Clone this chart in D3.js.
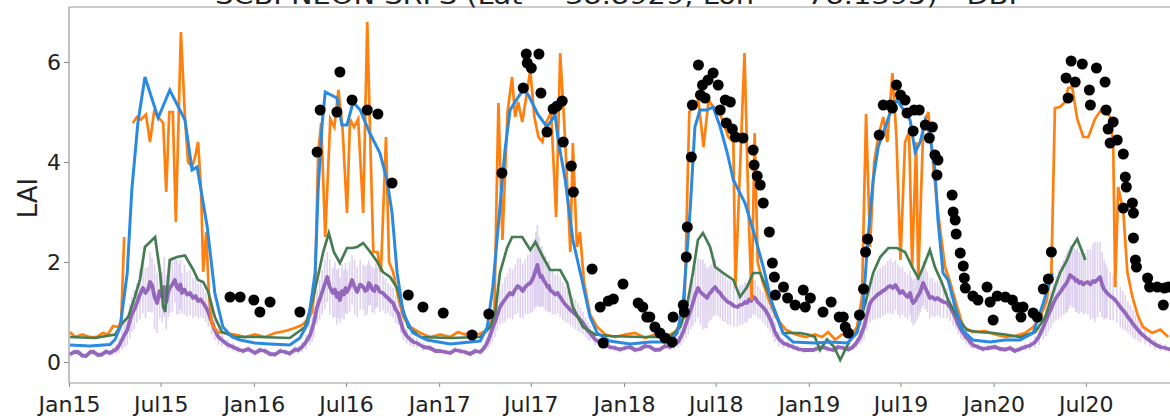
<!DOCTYPE html>
<html>
<head>
<meta charset="utf-8">
<script src="https://cdn.jsdelivr.net/npm/d3@7"></script>
<style>
  body { margin: 0; background: #fff; }
  svg { display: block; font-family: "DejaVu Sans", sans-serif; }
</style>
</head>
<body>
<svg id="chart" width="1170" height="419"></svg>
<script>
// ---- data: [year, day of year, LAI] ----
const titleText = "SCBI NEON SRFS (Lat = 38.8929, Lon = -78.1395) - DBF";
const yTicks = [0, 2, 4, 6];

const orangeLAI = [
  [2015,3,0.6],[2015,13,0.5],[2015,27,0.55],[2015,42,0.5],[2015,56,0.5],[2015,68,0.58],[2015,78,0.55],
  [2015,88,0.72],[2015,98,0.7],[2015,104,0.82],[2015,110,2.5],[2015,118,null],
  [2015,127,4.78],[2015,135,4.9],[2015,143,4.85],[2015,153,4.95],[2015,161,4.4],[2015,169,5.0],
  [2015,177,4.9],[2015,187,4.78],[2015,193,3.4],[2015,199,5.0],[2015,206,5.0],[2015,212,2.8],
  [2015,222,6.6],[2015,230,4.9],[2015,236,4.0],[2015,244,3.9],[2015,250,4.1],[2015,256,4.4],
  [2015,262,3.4],[2015,266,1.8],[2015,272,2.6],[2015,277,1.4],[2015,283,0.75],[2015,295,0.6],
  [2015,309,0.58],[2015,329,0.55],[2015,349,0.5],
  [2016,3,0.55],[2016,23,0.5],[2016,43,0.58],[2016,63,0.62],[2016,82,0.68],[2016,96,0.74],
  [2016,108,0.85],[2016,116,1.0],[2016,122,1.5],[2016,128,4.2],[2016,134,4.78],[2016,142,2.5],
  [2016,152,4.86],[2016,160,4.7],[2016,168,5.44],[2016,176,4.7],[2016,185,2.98],[2016,191,4.86],
  [2016,199,4.7],[2016,207,4.86],[2016,217,2.98],[2016,225,6.8],[2016,231,4.4],[2016,237,2.2],
  [2016,245,2.2],[2016,252,1.8],[2016,262,4.5],[2016,268,2.0],[2016,276,1.8],[2016,286,1.3],
  [2016,296,0.9],[2016,310,0.7],[2016,330,0.58],[2016,349,0.5],
  [2017,3,0.55],[2017,23,0.5],[2017,38,0.6],[2017,52,0.55],[2017,66,0.62],[2017,78,0.55],
  [2017,92,0.62],[2017,102,0.75],[2017,110,1.0],[2017,118,5.18],[2017,126,2.44],[2017,136,5.0],
  [2017,145,5.7],[2017,151,4.9],[2017,157,5.2],[2017,165,4.8],[2017,173,5.3],[2017,181,5.84],
  [2017,189,4.9],[2017,197,4.5],[2017,205,4.4],[2017,213,4.8],[2017,222,5.0],[2017,232,2.9],
  [2017,240,6.18],[2017,250,4.4],[2017,260,2.2],[2017,265,4.38],[2017,273,2.3],[2017,279,2.6],
  [2017,287,1.6],[2017,299,0.95],[2017,313,0.7],[2017,329,0.55],[2017,349,0.5],
  [2018,3,0.55],[2018,23,0.58],[2018,43,0.48],[2018,62,0.55],[2018,82,0.5],[2018,102,0.6],
  [2018,114,0.8],[2018,120,0.9],[2018,130,5.0],[2018,138,5.1],[2018,148,5.24],[2018,158,4.3],
  [2018,168,5.24],[2018,177,5.1],[2018,187,5.04],[2018,197,4.8],[2018,207,4.5],[2018,217,4.4],
  [2018,221,1.5],[2018,239,6.18],[2018,247,3.0],[2018,253,1.24],[2018,259,4.58],[2018,265,2.0],
  [2018,275,1.6],[2018,287,1.24],[2018,301,0.9],[2018,320,0.65],[2018,340,0.55],[2018,360,0.5],
  [2019,13,0.55],[2019,27,0.5],[2019,39,0.6],[2019,53,0.45],[2019,67,0.55],[2019,83,0.5],
  [2019,96,0.7],[2019,106,1.3],[2019,114,4.96],[2019,122,2.3],[2019,130,4.0],[2019,138,4.5],
  [2019,148,4.9],[2019,156,4.4],[2019,166,5.78],[2019,174,4.5],[2019,182,2.04],[2019,191,4.4],
  [2019,199,4.6],[2019,205,1.9],[2019,213,4.4],[2019,217,1.64],[2019,227,4.7],[2019,237,5.0],
  [2019,247,3.9],[2019,256,3.0],[2019,270,1.9],[2019,280,1.6],[2019,294,1.1],[2019,306,0.7],
  [2019,325,0.6],[2019,349,0.62],
  [2020,4,0.55],[2020,24,0.5],[2020,43,0.52],[2020,63,0.58],[2020,79,0.7],[2020,93,0.9],
  [2020,105,1.2],[2020,115,1.8],[2020,122,5.08],[2020,132,5.1],[2020,142,5.2],[2020,148,5.48],
  [2020,156,5.5],[2020,166,4.86],[2020,178,4.5],[2020,188,4.5],[2020,201,4.86],[2020,217,5.1],
  [2020,231,4.9],[2020,237,4.4],[2020,241,1.5],[2020,247,3.5],[2020,257,3.0],[2020,265,1.8],
  [2020,275,1.3],[2020,285,0.95],[2020,296,0.7],[2020,314,0.58],[2020,330,0.65],[2020,346,0.5]
];

const blueLAI = [
  [2015,3,0.34],[2015,42,0.32],[2015,82,0.35],[2015,92,0.45],[2015,102,0.7],[2015,116,1.78],
  [2015,125,3.44],[2015,137,4.78],[2015,151,5.7],[2015,177,4.88],[2015,200,5.44],[2015,230,4.84],
  [2015,244,3.84],[2015,254,3.9],[2015,274,2.7],[2015,289,1.38],[2015,305,0.7],[2015,323,0.5],
  [2015,339,0.44],
  [2016,3,0.38],[2016,33,0.36],[2016,72,0.34],[2016,92,0.48],[2016,108,0.78],[2016,122,1.78],
  [2016,128,3.44],[2016,136,4.78],[2016,142,5.4],[2016,165,5.28],[2016,175,4.74],[2016,185,4.74],
  [2016,197,5.2],[2016,211,5.04],[2016,230,4.58],[2016,250,4.18],[2016,264,3.64],[2016,274,2.98],
  [2016,284,1.78],[2016,296,0.98],[2016,315,0.58],[2016,343,0.44],
  [2017,23,0.36],[2017,82,0.42],[2017,96,0.7],[2017,107,1.5],[2017,121,3.1],[2017,131,4.24],
  [2017,141,5.04],[2017,157,5.3],[2017,167,5.44],[2017,177,5.34],[2017,196,4.95],[2017,214,4.7],
  [2017,230,4.94],[2017,236,4.44],[2017,250,3.64],[2017,265,2.44],[2017,283,1.64],[2017,299,0.9],
  [2017,313,0.58],[2017,338,0.42],
  [2018,13,0.36],[2018,53,0.4],[2018,92,0.4],[2018,106,0.58],[2018,118,1.18],[2018,132,3.1],
  [2018,141,4.7],[2018,151,5.04],[2018,165,5.04],[2018,177,5.1],[2018,191,4.7],[2018,205,4.18],
  [2018,217,3.64],[2018,240,3.18],[2018,256,2.64],[2018,276,1.9],[2018,295,1.1],[2018,315,0.58],
  [2018,335,0.4],
  [2019,13,0.38],[2019,43,0.4],[2019,77,0.38],[2019,96,0.58],[2019,108,1.1],[2019,118,2.5],
  [2019,128,3.64],[2019,138,4.3],[2019,152,4.7],[2019,162,5.0],[2019,175,5.24],[2019,191,5.0],
  [2019,201,4.84],[2019,211,4.2],[2019,221,4.4],[2019,231,4.84],[2019,240,4.54],[2019,250,3.84],
  [2019,256,2.84],[2019,266,1.78],[2019,276,1.64],[2019,290,1.1],[2019,304,0.64],[2019,325,0.44],
  [2019,359,0.4],
  [2020,24,0.44],[2020,53,0.44],[2020,79,0.58],[2020,99,1.18],[2020,117,1.78]
];

const greenLAI = [
  [2015,3,0.5],[2015,52,0.48],[2015,92,0.55],[2015,108,0.8],[2015,118,0.9],[2015,131,1.3],
  [2015,141,1.64],[2015,151,2.3],[2015,171,2.5],[2015,181,1.78],[2015,187,1.1],[2015,191,1.0],
  [2015,200,2.04],[2015,214,2.1],[2015,230,2.13],[2015,246,1.85],[2015,256,1.64],[2015,266,1.6],
  [2015,276,1.4],[2015,289,0.9],[2015,303,0.6],[2015,329,0.5],
  [2016,13,0.5],[2016,72,0.48],[2016,102,0.7],[2016,116,1.2],[2016,126,1.64],[2016,138,2.2],
  [2016,149,2.58],[2016,159,2.2],[2016,171,1.98],[2016,185,2.28],[2016,195,2.28],[2016,205,2.3],
  [2016,217,2.38],[2016,231,2.2],[2016,245,2.0],[2016,256,1.8],[2016,270,1.7],[2016,284,1.48],
  [2016,294,1.1],[2016,306,0.7],[2016,330,0.5],
  [2017,23,0.48],[2017,82,0.5],[2017,102,0.7],[2017,112,1.0],[2017,121,1.78],[2017,135,2.28],
  [2017,145,2.5],[2017,165,2.5],[2017,181,2.24],[2017,191,2.4],[2017,206,2.1],[2017,220,1.84],
  [2017,240,1.84],[2017,254,1.58],[2017,265,1.1],[2017,285,0.7],[2017,309,0.55],[2017,338,0.52],
  [2018,33,0.5],[2018,92,0.5],[2018,112,0.7],[2018,125,1.1],[2018,137,1.78],[2018,147,2.44],
  [2018,157,2.58],[2018,171,2.3],[2018,181,1.9],[2018,197,1.78],[2018,217,1.64],[2018,230,1.3],
  [2018,244,1.5],[2018,256,1.78],[2018,270,1.78],[2018,286,1.38],[2018,304,0.9],[2018,315,0.58],
  [2018,349,0.58],[2018,364,0.55],
  [2019,13,0.5],[2019,23,0.24],[2019,37,0.45],[2019,51,0.3],[2019,63,0.04],[2019,83,0.45],
  [2019,96,0.6],[2019,108,1.0],[2019,128,1.78],[2019,142,2.1],[2019,158,2.28],[2019,175,2.28],
  [2019,191,2.2],[2019,205,1.9],[2019,217,1.68],[2019,227,1.9],[2019,240,2.24],[2019,250,1.9],
  [2019,264,1.58],[2019,276,1.24],[2019,294,0.9],[2019,313,0.64],[2019,335,0.6],[2019,365,0.58],
  [2020,24,0.55],[2020,53,0.5],[2020,83,0.6],[2020,103,0.9],[2020,122,1.5],[2020,132,1.78],
  [2020,146,2.04],[2020,156,2.3],[2020,166,2.46],[2020,176,2.2],[2020,182,2.04]
];

// [year, day, LAI, error half-width]
const purpleLAI = [
  [2015,3,0.15,0.05],[2015,11,0.2,0.05],[2015,19,0.2,0.06],[2015,27,0.13,0.05],[2015,35,0.12,0.05],
  [2015,43,0.2,0.06],[2015,50,0.2,0.06],[2015,58,0.14,0.05],[2015,66,0.15,0.05],[2015,74,0.21,0.06],
  [2015,82,0.18,0.06],[2015,88,0.22,0.08],[2015,94,0.25,0.1],[2015,100,0.33,0.15],[2015,106,0.45,0.2],
  [2015,111,0.55,0.25],[2015,116,0.64,0.3],[2015,121,0.82,0.35],[2015,125,0.95,0.35],[2015,130,1.05,0.4],
  [2015,135,1.18,0.4],[2015,141,1.35,0.5],[2015,147,1.48,0.5],[2015,152,1.38,0.5],[2015,157,1.45,0.45],
  [2015,161,1.6,0.6],[2015,165,1.54,0.55],[2015,170,1.3,0.65],[2015,175,1.18,0.6],[2015,180,1.42,0.55],
  [2015,185,1.3,0.5],[2015,189,1.5,0.6],[2015,193,1.2,0.55],[2015,197,1.4,0.5],[2015,200,1.48,0.5],
  [2015,205,1.55,0.55],[2015,210,1.64,0.45],[2015,214,1.5,0.55],[2015,218,1.45,0.5],[2015,221,1.55,0.5],
  [2015,224,1.38,0.4],[2015,229,1.45,0.5],[2015,234,1.35,0.45],[2015,240,1.38,0.45],[2015,246,1.28,0.4],
  [2015,251,1.32,0.4],[2015,256,1.22,0.35],[2015,261,1.25,0.35],[2015,266,1.18,0.3],[2015,271,1.1,0.3],
  [2015,276,1.0,0.3],[2015,283,0.8,0.25],[2015,289,0.64,0.2],[2015,296,0.5,0.15],[2015,303,0.44,0.12],
  [2015,314,0.35,0.1],[2015,325,0.3,0.08],[2015,335,0.25,0.07],[2015,345,0.22,0.06],[2015,355,0.26,0.06],
  [2016,3,0.18,0.05],[2016,13,0.24,0.06],[2016,23,0.22,0.06],[2016,33,0.16,0.05],[2016,43,0.15,0.05],
  [2016,53,0.22,0.06],[2016,63,0.2,0.06],[2016,72,0.17,0.06],[2016,82,0.25,0.08],[2016,89,0.24,0.08],
  [2016,96,0.3,0.1],[2016,104,0.4,0.15],[2016,112,0.54,0.2],[2016,116,0.66,0.25],[2016,120,0.8,0.3],
  [2016,126,1.1,0.35],[2016,131,1.25,0.4],[2016,136,1.4,0.45],[2016,141,1.55,0.5],[2016,146,1.7,0.5],
  [2016,151,1.5,0.55],[2016,157,1.38,0.5],[2016,161,1.45,0.55],[2016,165,1.3,0.55],[2016,168,1.38,0.5],
  [2016,171,1.24,0.45],[2016,175,1.42,0.55],[2016,179,1.35,0.5],[2016,182,1.48,0.5],[2016,185,1.4,0.45],
  [2016,190,1.5,0.5],[2016,195,1.64,0.5],[2016,200,1.5,0.55],[2016,205,1.4,0.5],[2016,211,1.55,0.5],
  [2016,217,1.5,0.45],[2016,221,1.42,0.5],[2016,225,1.45,0.5],[2016,228,1.58,0.45],[2016,231,1.54,0.4],
  [2016,235,1.45,0.45],[2016,239,1.42,0.45],[2016,242,1.52,0.45],[2016,245,1.5,0.4],[2016,250,1.4,0.4],
  [2016,256,1.38,0.35],[2016,261,1.32,0.35],[2016,266,1.28,0.3],[2016,271,1.22,0.3],[2016,276,1.18,0.3],
  [2016,281,1.05,0.28],[2016,286,0.98,0.25],[2016,291,0.8,0.22],[2016,296,0.64,0.2],[2016,303,0.52,0.15],
  [2016,310,0.45,0.12],[2016,316,0.4,0.1],[2016,323,0.38,0.1],[2016,336,0.3,0.08],[2016,349,0.28,0.06],
  [2016,360,0.22,0.05],
  [2017,3,0.22,0.05],[2017,13,0.2,0.05],[2017,23,0.18,0.05],[2017,32,0.24,0.06],[2017,42,0.22,0.06],
  [2017,52,0.2,0.05],[2017,62,0.16,0.05],[2017,72,0.22,0.06],[2017,82,0.2,0.06],[2017,88,0.26,0.08],
  [2017,94,0.35,0.12],[2017,98,0.44,0.16],[2017,102,0.54,0.2],[2017,106,0.66,0.25],[2017,111,0.8,0.3],
  [2017,116,0.95,0.32],[2017,121,1.1,0.35],[2017,126,1.18,0.4],[2017,131,1.25,0.45],[2017,136,1.32,0.45],
  [2017,141,1.38,0.5],[2017,146,1.35,0.5],[2017,151,1.45,0.5],[2017,156,1.52,0.55],[2017,161,1.48,0.6],
  [2017,166,1.42,0.55],[2017,171,1.5,0.55],[2017,176,1.55,0.6],[2017,181,1.58,0.6],[2017,185,1.65,0.65],
  [2017,189,1.75,0.7],[2017,192,1.85,0.75],[2017,195,1.94,0.8],[2017,198,1.8,0.7],[2017,201,1.7,0.6],
  [2017,204,1.72,0.6],[2017,207,1.64,0.55],[2017,211,1.58,0.55],[2017,215,1.5,0.5],[2017,218,1.52,0.5],
  [2017,220,1.44,0.45],[2017,225,1.4,0.45],[2017,230,1.35,0.4],[2017,235,1.38,0.4],[2017,240,1.3,0.4],
  [2017,245,1.22,0.38],[2017,250,1.15,0.35],[2017,255,1.1,0.32],[2017,260,1.04,0.3],[2017,265,1.0,0.3],
  [2017,270,0.95,0.3],[2017,275,0.9,0.28],[2017,280,0.84,0.25],[2017,285,0.78,0.22],[2017,290,0.7,0.2],
  [2017,295,0.62,0.18],[2017,299,0.58,0.15],[2017,309,0.45,0.12],[2017,319,0.38,0.1],[2017,328,0.33,0.08],
  [2017,338,0.3,0.07],[2017,348,0.28,0.06],[2017,358,0.25,0.06],
  [2018,3,0.28,0.06],[2018,13,0.3,0.06],[2018,23,0.24,0.05],[2018,33,0.26,0.05],[2018,43,0.32,0.06],
  [2018,53,0.3,0.06],[2018,62,0.24,0.05],[2018,72,0.25,0.05],[2018,82,0.32,0.06],[2018,92,0.3,0.07],
  [2018,100,0.34,0.1],[2018,108,0.4,0.12],[2018,113,0.5,0.16],[2018,118,0.6,0.2],[2018,123,0.75,0.28],
  [2018,128,0.9,0.35],[2018,133,1.05,0.4],[2018,137,1.18,0.45],[2018,142,1.35,0.55],[2018,147,1.48,0.6],
  [2018,152,1.4,0.65],[2018,157,1.35,0.7],[2018,161,1.32,0.65],[2018,165,1.28,0.6],[2018,169,1.36,0.55],
  [2018,173,1.4,0.55],[2018,177,1.46,0.55],[2018,181,1.5,0.55],[2018,186,1.42,0.5],[2018,191,1.38,0.5],
  [2018,196,1.3,0.48],[2018,201,1.25,0.45],[2018,206,1.2,0.45],[2018,211,1.18,0.45],[2018,218,1.12,0.42],
  [2018,225,1.1,0.4],[2018,230,1.14,0.4],[2018,235,1.15,0.4],[2018,240,1.2,0.4],[2018,244,1.18,0.4],
  [2018,248,1.25,0.38],[2018,252,1.22,0.35],[2018,256,1.3,0.35],[2018,260,1.28,0.35],[2018,265,1.2,0.32],
  [2018,270,1.15,0.3],[2018,275,1.1,0.3],[2018,280,1.04,0.3],[2018,285,0.95,0.28],[2018,290,0.85,0.25],
  [2018,295,0.72,0.22],[2018,299,0.6,0.2],[2018,307,0.46,0.14],[2018,315,0.38,0.1],[2018,325,0.34,0.08],
  [2018,335,0.3,0.07],[2018,345,0.26,0.06],[2018,355,0.24,0.06],
  [2019,10,0.24,0.05],[2019,20,0.28,0.06],[2019,29,0.3,0.06],[2019,39,0.26,0.05],[2019,49,0.24,0.05],
  [2019,59,0.3,0.06],[2019,69,0.28,0.06],[2019,79,0.25,0.06],[2019,88,0.3,0.07],[2019,95,0.38,0.1],
  [2019,102,0.5,0.15],[2019,106,0.6,0.2],[2019,110,0.7,0.25],[2019,116,0.95,0.32],[2019,122,1.18,0.4],
  [2019,127,1.25,0.42],[2019,132,1.3,0.45],[2019,137,1.35,0.48],[2019,142,1.38,0.5],[2019,147,1.42,0.5],
  [2019,152,1.45,0.5],[2019,157,1.5,0.52],[2019,162,1.52,0.55],[2019,167,1.48,0.52],[2019,172,1.54,0.5],
  [2019,177,1.45,0.5],[2019,181,1.38,0.5],[2019,186,1.42,0.48],[2019,191,1.35,0.45],[2019,196,1.3,0.45],
  [2019,201,1.38,0.45],[2019,204,1.25,0.45],[2019,207,1.18,0.45],[2019,211,1.22,0.45],[2019,215,1.3,0.45],
  [2019,218,1.35,0.42],[2019,221,1.4,0.4],[2019,224,1.5,0.42],[2019,227,1.58,0.45],[2019,231,1.48,0.42],
  [2019,235,1.4,0.4],[2019,240,1.28,0.4],[2019,245,1.3,0.38],[2019,250,1.25,0.35],[2019,255,1.28,0.35],
  [2019,260,1.24,0.35],[2019,267,1.2,0.32],[2019,274,1.18,0.3],[2019,280,1.1,0.28],[2019,286,0.98,0.25],
  [2019,291,0.88,0.22],[2019,296,0.75,0.2],[2019,301,0.65,0.18],[2019,306,0.58,0.15],[2019,311,0.5,0.13],
  [2019,316,0.45,0.12],[2019,321,0.38,0.1],[2019,325,0.34,0.08],[2019,335,0.3,0.07],[2019,345,0.26,0.06],
  [2019,355,0.28,0.06],
  [2020,4,0.3,0.06],[2020,14,0.26,0.05],[2020,24,0.25,0.05],[2020,33,0.28,0.05],[2020,43,0.22,0.05],
  [2020,53,0.26,0.06],[2020,63,0.3,0.07],[2020,73,0.33,0.09],[2020,83,0.4,0.12],[2020,91,0.52,0.18],
  [2020,99,0.7,0.25],[2020,104,0.82,0.3],[2020,109,0.95,0.35],[2020,114,1.05,0.38],[2020,119,1.18,0.4],
  [2020,124,1.28,0.45],[2020,129,1.35,0.5],[2020,134,1.42,0.52],[2020,139,1.5,0.55],[2020,143,1.55,0.58],
  [2020,146,1.6,0.6],[2020,149,1.66,0.6],[2020,152,1.74,0.6],[2020,156,1.7,0.6],[2020,160,1.68,0.6],
  [2020,163,1.62,0.62],[2020,166,1.64,0.65],[2020,170,1.58,0.62],[2020,174,1.6,0.6],[2020,178,1.55,0.6],
  [2020,182,1.58,0.6],[2020,187,1.6,0.65],[2020,192,1.55,0.7],[2020,197,1.62,0.75],[2020,201,1.6,0.8],
  [2020,206,1.65,0.75],[2020,211,1.7,0.7],[2020,215,1.55,0.65],[2020,219,1.45,0.6],[2020,222,1.42,0.55],
  [2020,225,1.38,0.5],[2020,231,1.32,0.48],[2020,237,1.28,0.45],[2020,244,1.2,0.42],[2020,251,1.1,0.4],
  [2020,256,1.04,0.38],[2020,261,0.98,0.35],[2020,266,0.9,0.32],[2020,271,0.84,0.3],[2020,276,0.76,0.28],
  [2020,281,0.7,0.25],[2020,286,0.64,0.22],[2020,291,0.58,0.2],[2020,300,0.5,0.15],[2020,310,0.42,0.12],
  [2020,320,0.35,0.1],[2020,330,0.3,0.08],[2020,340,0.28,0.07],[2020,350,0.25,0.06]
];

const groundLAI = [
  [2015,319,1.3],[2015,339,1.3],[2016,1,1.24],[2016,13,1.0],[2016,33,1.2],[2016,92,1.0],
  [2016,126,4.2],[2016,132,5.04],[2016,165,5.0],[2016,171,5.8],[2016,195,5.24],[2016,225,5.04],
  [2016,246,4.96],[2016,274,3.58],[2016,306,1.34],[2016,335,1.1],[2017,9,0.98],
  [2017,66,0.54],[2017,99,0.96],[2017,125,3.78],[2017,167,5.48],[2017,173,6.16],[2017,175,5.98],
  [2017,183,5.88],[2017,198,6.16],[2017,202,5.38],[2017,214,4.6],[2017,226,5.06],[2017,234,5.12],
  [2017,244,5.22],[2017,246,4.4],[2017,262,3.92],[2017,266,3.4],[2017,303,1.86],[2017,319,1.1],
  [2017,325,0.38],[2017,335,1.22],[2017,345,1.26],[2017,364,1.56],
  [2018,29,1.18],[2018,38,1.1],[2018,46,0.9],[2018,52,0.9],[2018,62,0.7],[2018,72,0.58],
  [2018,82,0.48],[2018,96,0.4],[2018,98,0.9],[2018,118,1.14],[2018,120,1.0],[2018,124,2.1],
  [2018,126,2.7],[2018,134,4.1],[2018,136,5.14],[2018,148,5.94],[2018,152,5.34],[2018,156,5.54],
  [2018,161,5.28],[2018,167,5.64],[2018,177,5.78],[2018,187,5.54],[2018,191,5.04],[2018,201,5.24],
  [2018,211,5.2],[2018,203,4.78],[2018,215,4.66],[2018,221,4.5],[2018,236,4.48],[2018,256,4.24],
  [2018,258,3.94],[2018,264,3.72],[2018,270,3.54],[2018,276,3.18],[2018,288,2.6],[2018,294,1.98],
  [2018,298,1.7],[2018,300,1.34],[2018,316,1.5],[2018,324,1.28],[2018,339,1.14],[2018,355,1.44],
  [2018,359,1.1],
  [2019,4,1.28],[2019,29,1.0],[2019,45,1.2],[2019,61,0.9],[2019,69,0.9],[2019,73,0.7],
  [2019,79,0.58],[2019,101,0.94],[2019,109,1.46],[2019,113,2.2],[2019,117,2.46],[2019,140,4.54],
  [2019,148,5.14],[2019,162,5.14],[2019,166,5.08],[2019,174,5.54],[2019,182,5.34],[2019,191,5.24],
  [2019,195,4.98],[2019,207,4.62],[2019,209,5.04],[2019,219,5.04],[2019,231,4.74],[2019,239,4.48],
  [2019,245,4.7],[2019,250,4.14],[2019,256,4.04],[2019,254,3.74],[2019,284,3.34],[2019,286,3.0],
  [2019,290,2.84],[2019,292,2.56],[2019,300,2.18],[2019,306,1.92],[2019,308,1.68],[2019,310,1.48],
  [2019,325,1.32],[2019,335,1.24],[2019,353,1.5],[2019,359,1.2],[2019,365,0.84],
  [2020,8,1.32],[2020,24,1.3],[2020,38,1.24],[2020,47,1.1],[2020,55,0.9],[2020,59,1.1],
  [2020,79,0.98],[2020,87,0.9],[2020,99,1.46],[2020,109,1.66],[2020,115,2.2],[2020,144,5.68],
  [2020,148,5.28],[2020,154,6.02],[2020,162,5.6],[2020,176,5.96],[2020,190,5.44],[2020,192,5.14],
  [2020,204,5.88],[2020,221,5.6],[2020,223,5.04],[2020,227,4.66],[2020,231,4.38],[2020,237,4.8],
  [2020,245,4.44],[2020,257,4.16],[2020,257,3.08],[2020,261,3.7],[2020,263,3.5],[2020,275,3.18],
  [2020,277,2.98],[2020,277,2.48],[2020,281,2.04],[2020,283,1.9],[2020,305,1.68],[2020,309,1.5],
  [2020,324,1.5],[2020,336,1.14],[2020,338,1.48],[2020,346,1.5]
];

// ---- drawing ----
const svg = d3.select("#chart");
const plotLeft = 69, plotTop = 7, plotBottom = 383, plotRight = 1179;

function day(d) { return new Date(d[0], 0, d[1]); }

const x = d3.scaleTime()
    .domain([new Date(2015, 0, 1), new Date(2021, 0, 1)])
    .range([plotLeft, plotRight]);
const y = d3.scaleLinear()
    .domain([-0.42, 7.1])
    .range([plotBottom, plotTop]);

svg.append("defs").append("clipPath").attr("id", "plot")
  .append("rect").attr("x", plotLeft).attr("y", plotTop)
  .attr("width", plotRight - plotLeft).attr("height", plotBottom - plotTop);

const plot = svg.append("g").attr("clip-path", "url(#plot)");

const line = d3.line()
    .defined(d => d[2] !== null)
    .x(d => x(day(d)))
    .y(d => y(d[2]));

// error bars of the purple series
plot.append("g").selectAll("line")
    .data(purpleLAI)
    .enter().append("line")
    .attr("x1", d => x(day(d))).attr("x2", d => x(day(d)))
    .attr("y1", d => y(d[2] - d[3])).attr("y2", d => y(d[2] + d[3]))
    .attr("stroke", "#cdb8e8")
    .attr("stroke-opacity", 0.65)
    .attr("stroke-width", 1.6);

plot.append("path").datum(purpleLAI)
    .attr("d", line).attr("fill", "none")
    .attr("stroke", "#9467bd").attr("stroke-width", 3.8)
    .attr("stroke-linejoin", "round");

plot.append("path").datum(orangeLAI)
    .attr("d", line).attr("fill", "none")
    .attr("stroke", "#ff800e").attr("stroke-width", 2.7);

plot.append("path").datum(greenLAI)
    .attr("d", line).attr("fill", "none")
    .attr("stroke", "#467c52").attr("stroke-width", 2.7);

plot.append("path").datum(blueLAI)
    .attr("d", line).attr("fill", "none")
    .attr("stroke", "#2a8ae2").attr("stroke-width", 3);

plot.append("g").selectAll("circle")
    .data(groundLAI)
    .enter().append("circle")
    .attr("cx", d => x(day(d)))
    .attr("cy", d => y(d[2]))
    .attr("r", 5.5)
    .attr("fill", "black");

// axes
const xAxis = d3.axisBottom(x)
    .tickValues(d3.timeMonth.every(6).range(new Date(2015, 0, 1), new Date(2020, 7, 1)))
    .tickFormat(d3.timeFormat("%b%y"))
    .tickSize(4).tickPadding(9);
const gx = svg.append("g").attr("transform", "translate(0," + plotBottom + ")").call(xAxis);

const yAxis = d3.axisLeft(y).tickValues(yTicks).tickSize(5).tickPadding(3);
const gy = svg.append("g").attr("transform", "translate(" + plotLeft + ",0)").call(yAxis);

[gx, gy].forEach(g => {
  g.select(".domain").remove();
  g.selectAll(".tick line").attr("stroke", "#888");
  g.selectAll(".tick text").attr("fill", "#222")
    .style("font-size", "22px").style("font-family", "DejaVu Sans");
});

// spines
svg.append("line").attr("x1", plotLeft).attr("x2", plotRight).attr("y1", plotTop).attr("y2", plotTop)
    .attr("stroke", "#999").attr("stroke-width", 1.2);
svg.append("line").attr("x1", plotLeft).attr("x2", plotRight).attr("y1", plotBottom).attr("y2", plotBottom)
    .attr("stroke", "#999").attr("stroke-width", 1.2);
svg.append("line").attr("x1", plotLeft).attr("x2", plotLeft).attr("y1", plotTop).attr("y2", plotBottom)
    .attr("stroke", "#999").attr("stroke-width", 1.2);

// y label
svg.append("text")
    .attr("transform", "translate(37,198) rotate(-90)")
    .attr("text-anchor", "middle")
    .attr("fill", "#222")
    .style("font-size", "26px")
    .text("LAI");

// title (cut off at the top, as in the source figure)
svg.append("text")
    .attr("x", 620).attr("y", 4)
    .attr("text-anchor", "middle")
    .attr("fill", "#222")
    .attr("textLength", 810)
    .attr("lengthAdjust", "spacingAndGlyphs")
    .style("font-size", "24px")
    .text(titleText);
</script>
</body>
</html>
